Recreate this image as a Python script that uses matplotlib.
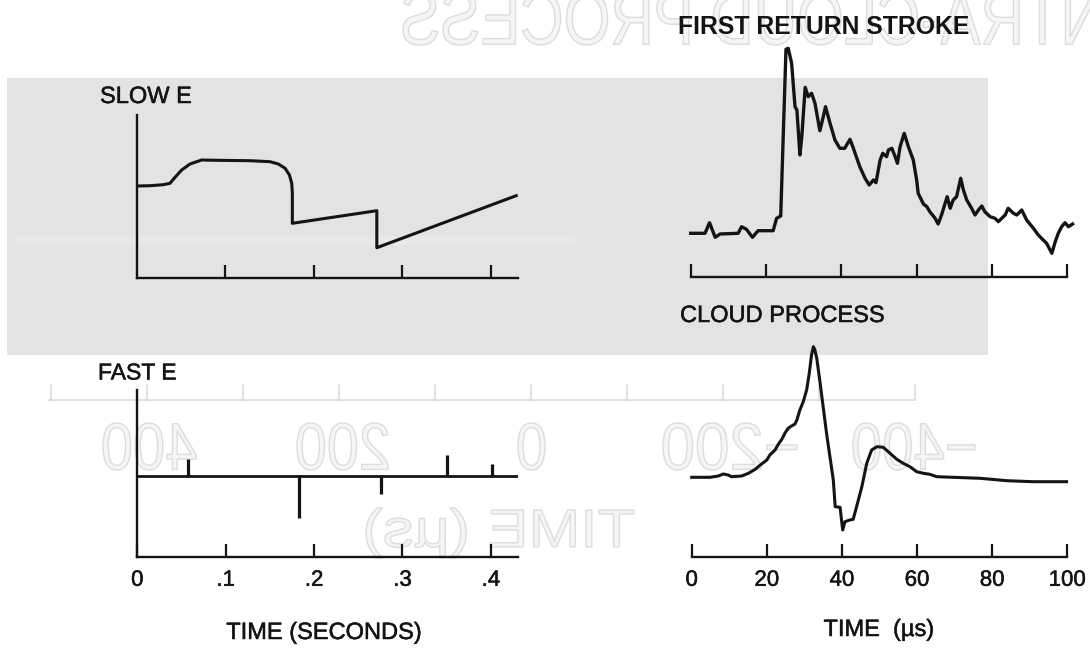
"""
Lightning field-change records: slow / fast E (seconds) and return-stroke /
cloud-process waveforms (microseconds), redrawn from a scanned figure.
"""
import matplotlib
matplotlib.use("Agg")
import matplotlib.pyplot as plt
import matplotlib.patheffects as pe
import numpy as np
from matplotlib.font_manager import FontProperties
from matplotlib.patches import PathPatch, Rectangle
from matplotlib.textpath import TextPath
from matplotlib.transforms import Affine2D

W, H = 1090, 650
INK = "#141414"
PAPER_GRAU = "#e3e3e3"
GEIST_RAND = "#dcdcdc"
GEIST_FUELL = "#f5f5f5"
FONT = "Liberation Sans"
DICK = [pe.withStroke(linewidth=0.35, foreground=INK)]

plt.rcParams["font.family"] = [FONT, "DejaVu Sans"]

# ---- data --------------------------------------------------------------------
SLOW_T = [0.0, 0.015, 0.030, 0.0376, 0.0433, 0.0508, 0.0602, 0.0734, 0.0904,
          0.128, 0.1506, 0.160, 0.1676, 0.1725, 0.1751, 0.1758, 0.1758,
          0.2712, 0.2712, 0.4286]
SLOW_E = [92.0, 92.3, 93.3, 94.7, 100.7, 108, 114, 118, 117.7,
          117.3, 116.3, 114, 109.7, 103, 94.7, 84.7, 54.7,
          67.3, 30.3, 82.3]

FAST_T = [0.0577, 0.1834, 0.2758, 0.350, 0.401]
FAST_AMP = [17, -42, -18, 21, 12]
SEC_TICKS = [0, 0.1, 0.2, 0.3, 0.4]
SEC_LABELS = ["0", ".1", ".2", ".3", ".4"]

RS_T = [0.0, 3.8, 5.0, 6.5, 7.8, 12.6, 13.5, 14.8, 16.4, 17.9, 21.9, 22.8,
        23.9, 25.3, 25.9, 26.8, 27.7, 28.2, 29.0, 29.5, 30.4, 31.2, 32.1,
        33.0, 34.3, 35.2, 35.8, 37.0, 38.3, 39.6, 40.9, 42.3, 43.2, 44.9,
        46.3, 47.4, 48.5, 49.2, 50.3, 51.0, 52.0, 52.5, 53.4, 54.3, 54.9,
        55.6, 56.7, 57.8, 59.1, 60.0, 60.4, 61.8, 62.7, 63.5, 64.9, 65.7,
        66.6, 68.1, 68.9, 69.7, 70.6, 71.7, 72.4, 73.3, 74.6, 75.5, 76.4,
        77.3, 78.1, 79.5, 80.8, 81.7, 82.6, 83.5, 84.3, 85.7, 86.6, 87.9,
        89.2, 91.0, 92.3, 93.6, 94.5, 95.9, 96.8, 97.6, 98.5, 99.4, 100.3,
        101.4]
RS_E = [43.4, 43.4, 54.0, 39.4, 42.7, 43.4, 50.0, 47.4, 39.4, 46.0, 46.0,
        58.4, 60.7, 227.4, 228.4, 213.4, 170.0, 166.7, 121.7, 140.0, 189.4,
        180.0, 183.4, 173.4, 146.0, 160.0, 170.0, 153.4, 136.7, 128.4, 128.4,
        137.4, 128.4, 110.0, 98.4, 91.7, 96.7, 94.0, 116.7, 123.4, 120.0,
        126.7, 128.4, 120.0, 113.4, 130.0, 143.4, 130.0, 116.7, 96.7, 83.4,
        72.7, 70.0, 65.0, 58.4, 52.7, 61.7, 80.0, 68.4, 76.7, 80.0, 98.4,
        86.7, 76.7, 68.4, 61.7, 66.7, 70.7, 65.0, 60.0, 58.4, 55.0, 58.4,
        61.7, 68.4, 63.4, 61.7, 66.7, 56.7, 48.4, 41.7, 36.7, 33.4, 23.4,
        35.0, 43.4, 50.0, 54.0, 50.0, 52.7]

CLOUD_T = [0.0, 4.9, 7.1, 8.4, 9.7, 10.6, 13.3, 15.1, 16.9, 18.6, 20.0, 20.8,
           22.2, 23.1, 24.0, 24.8, 25.7, 26.6, 27.5, 28.0, 28.8, 29.7, 30.6,
           31.3, 31.9, 32.4, 32.8, 33.3, 34.2, 35.9, 37.7, 38.2, 39.5, 40.2,
           40.8, 42.1, 43.0, 43.9, 45.3, 46.6, 47.9, 49.3, 51.0, 52.8, 54.6,
           56.3, 58.1, 59.9, 61.7, 63.4, 65.2, 69.6, 76.8, 83.9, 90.9, 99.8]
CLOUD_E = [80.0, 80.0, 81.3, 83.3, 82.3, 80.6, 81.3, 84.0, 88.0, 93.3, 97.3,
           102.3, 107.3, 113.3, 118.0, 124.0, 129.0, 131.3, 133.3, 137.3,
           147.3, 155.6, 167.3, 184.0, 202.3, 210.6, 207.3, 199.0, 174.0,
           124.0, 77.3, 50.6, 50.0, 27.3, 35.6, 37.3, 38.0, 50.6, 70.6, 94.0,
           107.3, 110.6, 110.0, 104.0, 98.0, 94.0, 90.6, 85.6, 84.0, 83.0,
           80.6, 80.0, 79.0, 76.6, 75.6, 75.6]
US_TICKS = [0, 20, 40, 60, 80, 100]


def px_axes(fig, left, right, bottom, top):
    """Axes placed by pixel box (y measured from the top of the image)."""
    ax = fig.add_axes([left / W, 1 - bottom / H, (right - left) / W, (bottom - top) / H])
    ax.set_facecolor("none")
    for s in ax.spines.values():
        s.set_visible(False)
    ax.tick_params(direction="in", length=9.5, width=1.6, color=INK,
                   labelsize=16, labelcolor=INK, pad=9, left=False, labelleft=False)
    return ax


def achse(ax, seiten):
    for s in seiten:
        ax.spines[s].set_visible(True)
        ax.spines[s].set_linewidth(1.7)
        ax.spines[s].set_color(INK)
    for t in ax.get_xticklabels():
        t.set_path_effects(DICK)


def geist(ax, text, x0, x1, ytop, ybot):
    """Mirrored show-through text from the back of the page."""
    tp = TextPath((0, 0), text, size=1, prop=FontProperties(family=FONT))
    bb = tp.get_extents()
    tr = (Affine2D().translate(-bb.x0, -bb.y0)
          .scale(-(x1 - x0) / bb.width, -(ybot - ytop) / bb.height)
          .translate(x1, ybot))
    ax.add_patch(PathPatch(tr.transform_path(tp), facecolor=GEIST_FUELL,
                           edgecolor=GEIST_RAND, lw=1.0))


fig = plt.figure(figsize=(W / 100, H / 100), dpi=100, facecolor="white")

# page background: grey paste-up block + faint show-through
bg = fig.add_axes([0, 0, 1, 1], zorder=-5)
bg.set_xlim(0, W)
bg.set_ylim(H, 0)
bg.axis("off")
bg.add_patch(Rectangle((7, 78), 981, 277, facecolor=PAPER_GRAU, edgecolor="none"))
bg.add_patch(Rectangle((15, 236), 560, 9, facecolor="#e8e8e8", edgecolor="none"))
geist(bg, "INTRA-CLOUD PROCESS", 403, 1115, -8, 45)
for s, a, b in [("400", 103, 196), ("200", 297, 388), ("0", 518, 545),
                ("\u2212200", 663, 797), ("\u2212400", 853, 975)]:
    geist(bg, s, a, b, 423, 470)
geist(bg, "TIME (\u00b5s)", 366, 634, 508, 558)
bg.plot([49, 915], [400, 400], color=GEIST_RAND, lw=1.2)
for xt in np.linspace(51, 915, 10):
    bg.plot([xt, xt], [385, 400], color=GEIST_RAND, lw=1.2)

# ---- SLOW E -----------------------------------------------------------------
ax_s = px_axes(fig, 136.7, 518.3, 278, 115)
ax_s.set_xlim(0, 0.431)
ax_s.set_ylim(0, 163)
ax_s.set_xticks(SEC_TICKS[1:])
ax_s.tick_params(labelbottom=False)
ax_s.set_yticks([])
achse(ax_s, ("left", "bottom"))
ax_s.plot(SLOW_T, SLOW_E, color=INK, lw=2.2, solid_joinstyle="round")

# ---- FAST E -----------------------------------------------------------------
ax_f = px_axes(fig, 137.3, 518.3, 557.3, 390)
ax_f.set_xlim(0, 0.431)
ax_f.set_ylim(-81.6, 85.7)
ax_f.set_xticks(SEC_TICKS, SEC_LABELS)
ax_f.set_yticks([])
achse(ax_f, ("left", "bottom"))
ax_f.axhline(0, color=INK, lw=2.0)
ax_f.vlines(FAST_T, 0, FAST_AMP, color=INK, lw=2.3)

# ---- FIRST RETURN STROKE ----------------------------------------------------
ax_r = px_axes(fig, 690.7, 1067.3, 276.7, 36.7)
ax_r.set_xlim(0, 100)
ax_r.set_ylim(0, 240)
ax_r.set_xticks(US_TICKS)
ax_r.tick_params(labelbottom=False)
ax_r.set_yticks([])
achse(ax_r, ("bottom",))
ax_r.plot(RS_T, RS_E, color=INK, lw=2.4, clip_on=False, solid_joinstyle="round")

# ---- CLOUD PROCESS ----------------------------------------------------------
ax_c = px_axes(fig, 691.7, 1067.3, 557.3, 337.3)
ax_c.set_xlim(0, 100)
ax_c.set_ylim(0, 220)
ax_c.set_xticks(US_TICKS, [str(t) for t in US_TICKS])
ax_c.set_yticks([])
achse(ax_c, ("bottom",))
ax_c.plot(CLOUD_T, CLOUD_E, color=INK, lw=2.2, clip_on=False, solid_joinstyle="round")

# ---- labels -----------------------------------------------------------------
def lab(x, y, s, effekt=True, **kw):
    fig.text(x / W, 1 - y / H, s, color=INK, va="center",
             path_effects=DICK if effekt else None, **kw)

lab(100, 97, "SLOW E", fontsize=17)
lab(98, 373, "FAST E", fontsize=16.5)
lab(678, 27, "FIRST RETURN STROKE", effekt=False, fontsize=17.8, fontweight="bold")
lab(680, 316, "CLOUD PROCESS", fontsize=17)
lab(324, 633, "TIME (SECONDS)", fontsize=17, ha="center")
lab(879, 630, "TIME  (\u00b5s)", fontsize=17, ha="center")

fig.savefig("out.png", dpi=100, facecolor="white")
